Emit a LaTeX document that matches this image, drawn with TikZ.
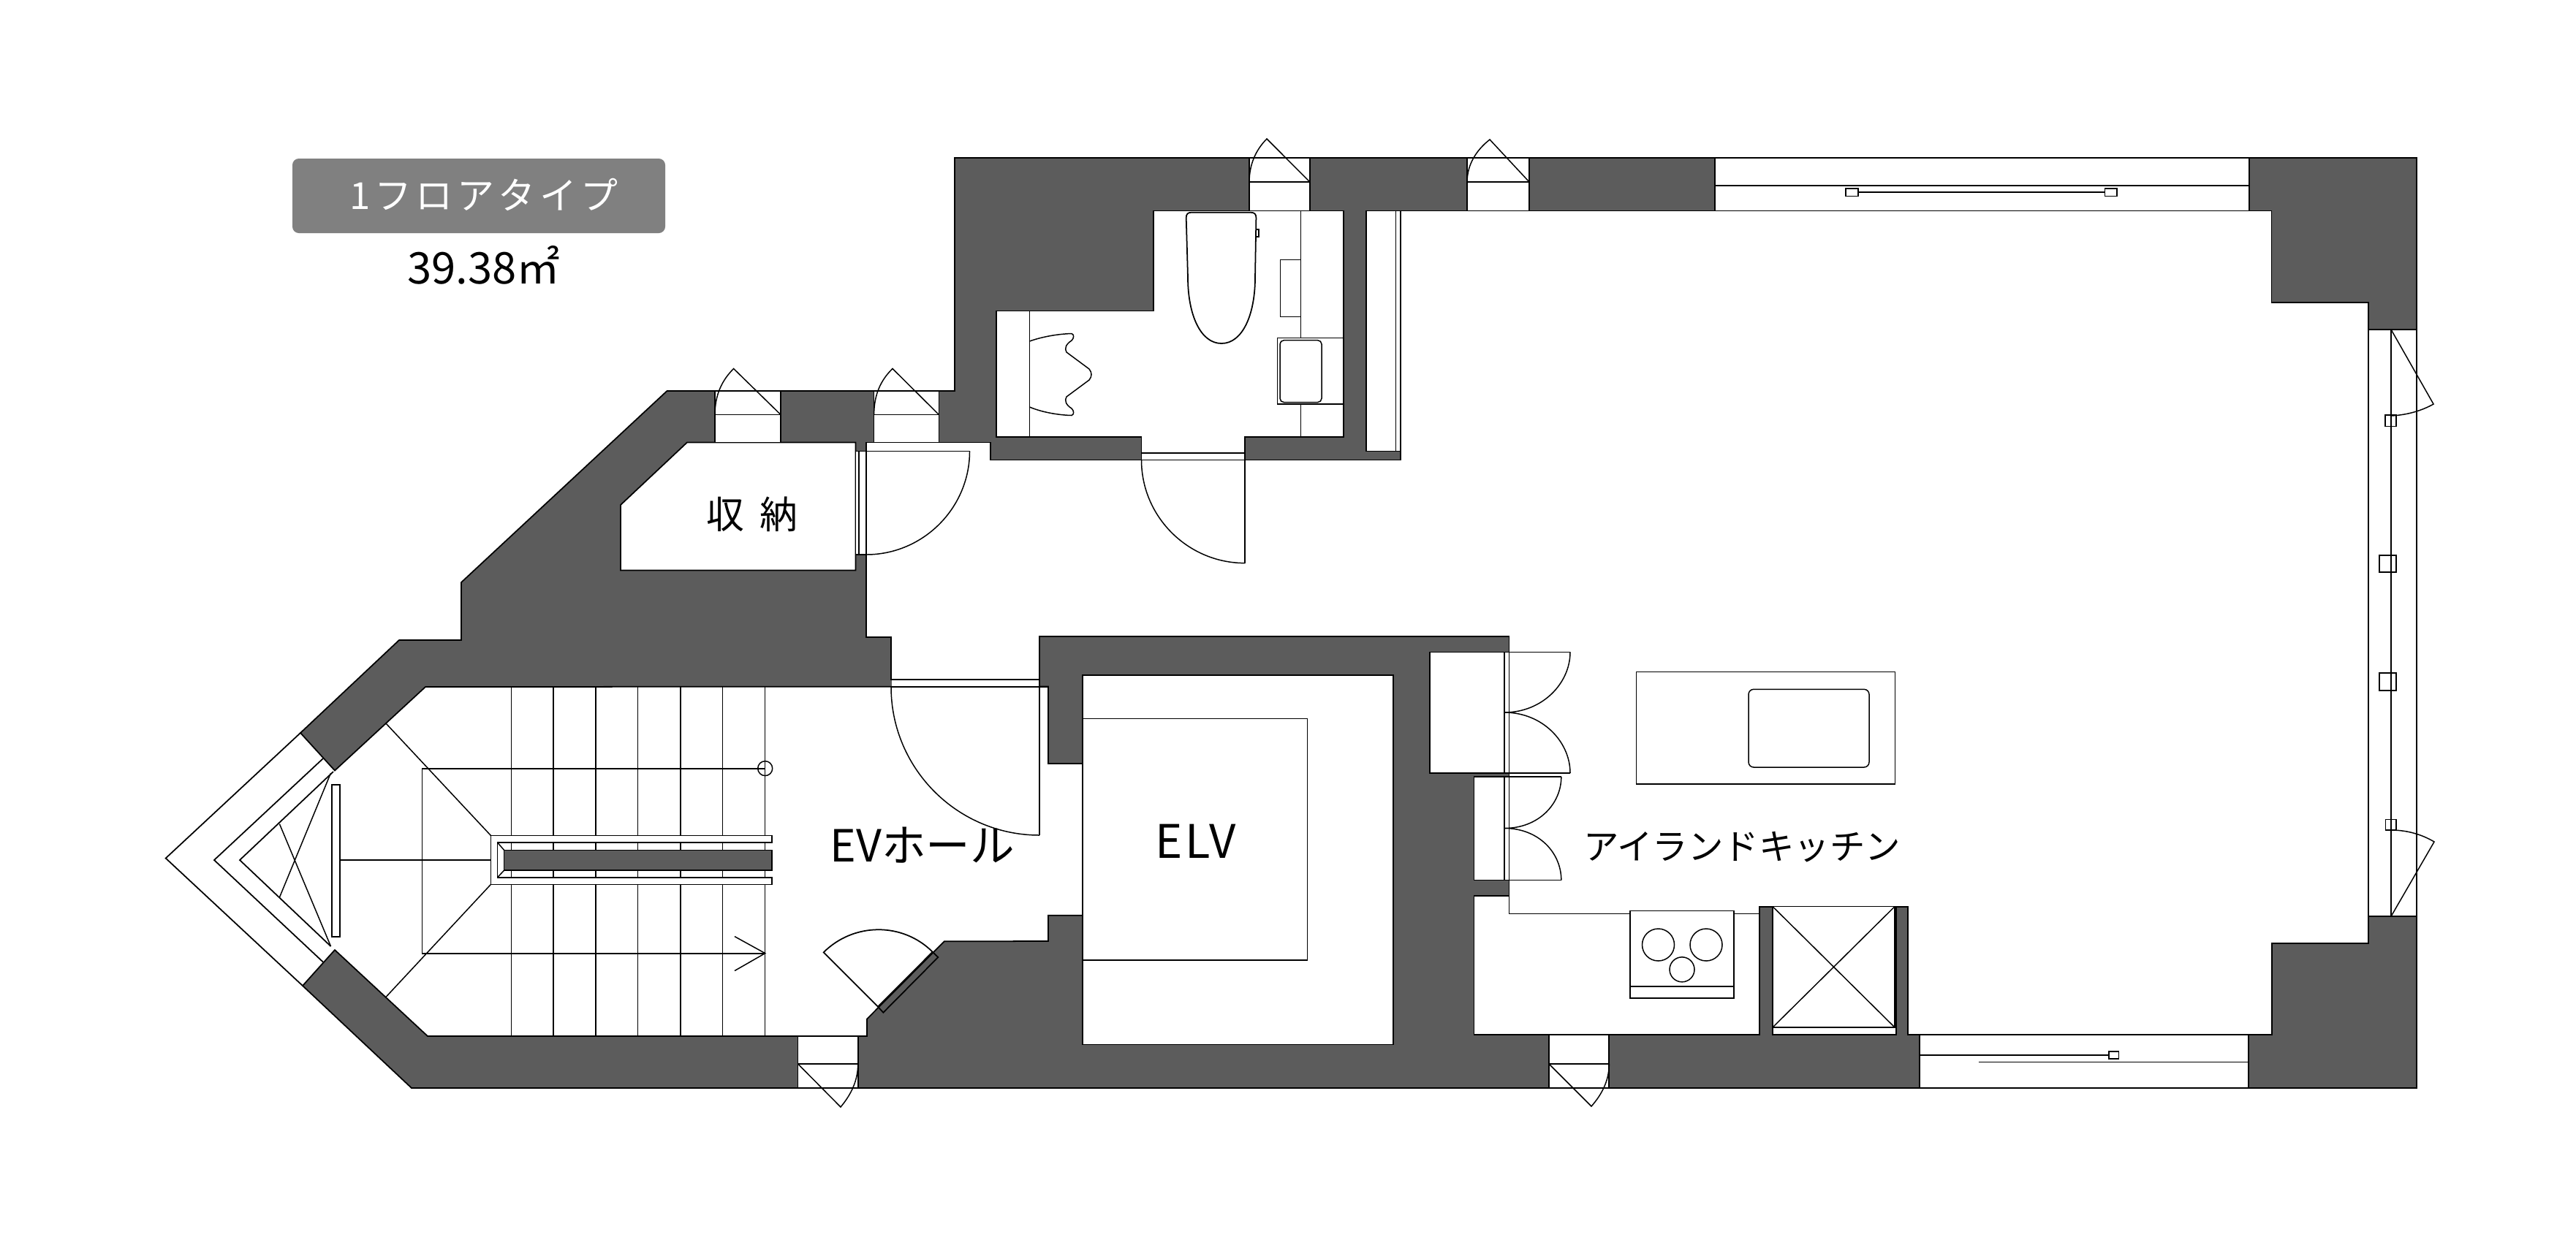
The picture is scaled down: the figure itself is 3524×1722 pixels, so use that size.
\documentclass[tikz,border=0pt]{standalone}
\usepackage{fontspec}
\newfontfamily\jp{Noto Sans CJK JP}
\definecolor{wallc}{HTML}{5C5C5C}
\definecolor{badgec}{HTML}{808080}
\tikzset{
  ln/.style={draw=black,line width=1.0pt,line join=miter},
  fine/.style={draw=black,line width=0.85pt},
  wall/.style={fill=wallc,draw=black,line width=1.0pt,line join=miter},
  room/.style={fill=white,draw=black,line width=1.0pt,line join=miter},
  lbl/.style={inner sep=0pt,text=black,anchor=center}
}
\newcommand{\jpsize}[1]{\jp\fontsize{#1}{#1}\selectfont}
\begin{document}
\begin{tikzpicture}[x=0.02cm,y=-0.02cm]
\useasboundingbox (0,0) rectangle (3524,1722);
\fill[white] (0,0) rectangle (3524,1722);
% building mass
\path[wall] (1306,216)--(3306,216)--(3306,1489)--(563,1489)--(414,1349)--(411,1003)--(546,876)--(631,876)--(631,797)--(912.5,535)--(1306,535)--cycle;
% main interior
\path[room] (1185,605.4)--(1354.8,605.4)--(1354.8,629.5)--(1915.8,629.5)--(1915.8,617.5)--(1869,617.5)--(1869,288.5)--(3107.4,288.5)--(3107.4,414)--(3240,414)--(3240,1290.6)--(3108,1290.6)--(3108,1415.6)--(2610,1415.6)--(2610,1240.6)--(2593.6,1240.6)--(2593.6,1415.6)--(2425,1415.6)--(2425,1240.6)--(2407,1240.6)--(2407,1415.6)--(2016.4,1415.6)--(2016.4,1226)--(2064.5,1226)--(2064.5,1204.5)--(2016.4,1204.5)--(2016.4,1063)--(2064.5,1063)--(2064.5,1058)--(1956,1058)--(1956,892.4)--(2064.5,892.4)--(2064.5,871)--(1422,871)--(1422,930)--(1219,930)--(1219,872)--(1185,872)--cycle;
\draw[fine] (1909.7,288.5)--(1909.7,617.5) (1915.8,288.5)--(1915.8,617.5);
% hall
\path[room] (411,1003)--(226.7,1174.5)--(414,1349)--(458,1300)--(585,1418)--(1186,1418)--(1186,1394.5)--(1291.7,1288.3)--(1434,1288)--(1434,1252.7)--(1481,1252.7)--(1481,1045)--(1434,1045)--(1434,939.5)--(582,940)--(458,1054.5)--cycle;
\fill[white] (1220,931) rectangle (1422,939);
\draw[ln] (1219,930)--(1422,930) (1219,940)--(1434,940);
\draw[ln] (1422,930)--(1422,1143);
\draw[fine] (1219,940) .. controls (1219,1052) and (1310,1143) .. (1422,1143);
% glazing at the point
\draw[ln] (442,1038)--(293,1177)--(442,1316.6);
\draw[ln] (456,1056)--(328,1177)--(452.5,1295);
\draw[fine] (382.4,1127.6)--(452.5,1295) (382.4,1228)--(452.5,1058);
\draw[ln] (454,1073.6) rectangle (465,1281.6);
\draw[ln] (465,1177)--(671.4,1177);
% stairs
\foreach \tx in {699.5,757,815,872.7,931,988.5,1046.7} \draw[fine] (\tx,940)--(\tx,1418);
\draw[ln] (1046.7,1051.6)--(577.4,1051.6)--(577.4,1304.6)--(1046.7,1304.6);
\draw[fine] (1005,1281.6)--(1046.7,1304.6)--(1005,1328.5);
\draw[fine] (1046.7,1051.6) circle (10);
\draw[fine] (528,990)--(671.4,1143.4) (528,1364.4)--(671.4,1210.4);
\path[room] (671.4,1143.4)--(1056,1143.4)--(1056,1153)--(680.5,1153)--(680.5,1200.8)--(1056,1200.8)--(1056,1210.4)--(671.4,1210.4)--cycle;
\draw[fine] (680.5,1153)--(689.7,1163.5) (680.5,1200.8)--(689.7,1191);
\path[fill=wallc,draw=black,line width=0.8pt] (689.7,1163.5) rectangle (1056,1191);
% small door in hall
\draw[ln] (1201,1377.7)--(1126.7,1303.3) .. controls (1167.8,1262.3) and (1234.7,1261.7) .. (1275.7,1302.7);
\draw[ln] (1201,1377.7)--(1208.3,1385.7)--(1283.3,1310)--(1275.7,1302.7)--cycle;
% storage
\path[room] (940,605.4)--(1170.4,605.4)--(1170.4,780.4)--(849,780.4)--(849,691)--cycle;
\fill[white] (1171,617.5) rectangle (1185,759);
\draw[ln] (1170.4,617.5)--(1326.5,617.5) (1175,617.5)--(1175,759) (1185,617.5)--(1185,759) (1170.4,759)--(1185,759);
\draw[fine] (1326.5,617.5) .. controls (1326.5,695) and (1263,759) .. (1185,759);
% bathroom
\path[room] (1578,288.5)--(1837.8,288.5)--(1837.8,598.3)--(1703,598.3)--(1703,629.5)--(1561.5,629.5)--(1561.5,598.3)--(1363.3,598.3)--(1363.3,425.5)--(1578,425.5)--cycle;
\draw[ln] (1561.5,619.7)--(1703,619.7) (1561.5,629.5)--(1703,629.5);
\draw[ln] (1703,629.5)--(1703,770.6);
\draw[fine] (1561.5,629.5) .. controls (1561.5,707) and (1625,770.6) .. (1703,770.6);
\draw[fine] (1408.4,425.5)--(1408.4,598.3);
\draw[fine] (1408.4,467) .. controls (1425,461) and (1447,457) .. (1466,456.5) .. controls (1470,458) and (1469,463) .. (1466,466) .. controls (1458,471) and (1456,477) .. (1459,482) -- (1490,505) .. controls (1494,510) and (1494,515) .. (1490,520) -- (1459,543) .. controls (1456,548) and (1458,554) .. (1466,559) .. controls (1469,562) and (1470,567) .. (1466,568.5) .. controls (1447,568) and (1425,564) .. (1408.4,557);
\draw[fine] (1779.6,288.5)--(1779.6,462.6) (1779.6,552.8)--(1779.6,598.3);
\draw[fine] (1751.3,355.4) rectangle (1779.6,433.6);
\draw[fine] (1747.4,462.6) rectangle (1837.8,552.8);
\draw[fine,rounded corners=3] (1751,465.7) rectangle (1808,550.5);
\draw[ln] (1630,290.7)--(1710.7,290.7) .. controls (1716,290.7) and (1718.4,293) .. (1718.4,298)--(1717,380) .. controls (1717,430) and (1700,470) .. (1671,470) .. controls (1642,470) and (1625,430) .. (1625,380)--(1622.7,298) .. controls (1622.7,293) and (1625,290.7) .. (1630,290.7)--cycle;
\draw[fine] (1718.4,314)--(1722,314)--(1722,324)--(1718,324);
% wall openings with outward doors
\path[room] (978,535) rectangle (1068,605.4);
\path[room] (1195.6,535) rectangle (1284.4,605.4);
\path[room] (1709,215.7) rectangle (1791.8,288.5);
\path[room] (2007,215.7) rectangle (2092,288.5);
\path[room] (1091.6,1418) rectangle (1173.7,1489);
\path[room] (2119,1415.6) rectangle (2201.3,1489);
\draw[ln] (978,567.5)--(1068,567.5) (1195.6,567.5)--(1284.4,567.5) (1709,249)--(1791.8,249) (2007,249)--(2092,249) (1091.6,1456)--(1173.7,1456) (2119,1456)--(2201.3,1456);
\draw[fine] (978,567.5) .. controls (978,540) and (988,520) .. (1003.6,504.5)--(1068,567.5);
\draw[fine] (1195.6,567.5) .. controls (1195.6,540) and (1205,520) .. (1221,504.5)--(1284.4,567.5);
\draw[fine] (1709,249) .. controls (1709,225) and (1718,205) .. (1733,190)--(1791.8,249);
\draw[fine] (2007,249) .. controls (2007,225) and (2020,205) .. (2038,191)--(2092,249);
\draw[fine] (1091.6,1456)--(1150,1515) .. controls (1165,1497) and (1173.7,1478) .. (1173.7,1456);
\draw[fine] (2119,1456)--(2177,1514) .. controls (2192,1497) and (2201.3,1478) .. (2201.3,1456);
% elevator
\path[room] (1481,923.7) rectangle (1906,1429.5);
\path[fill=white,draw=black,line width=1pt] (1481,983.5) rectangle (1788.4,1314.3);
% cabinets
\draw[fine] (2058,892.4)--(2058,1058) (2058,1063)--(2058,1204.5) (2064.5,892.4)--(2064.5,1058) (2064.5,1063)--(2064.5,1204.5);
\draw[fine] (1956,892.4)--(2148,892.4) (1956,1058)--(2148,1058) (2016.4,1063)--(2135.8,1063) (2016.4,1204.5)--(2135.8,1204.5);
\draw[fine] (2148,892.4) .. controls (2148,935) and (2110,975) .. (2058,975) .. controls (2110,975) and (2148,1015) .. (2148,1058);
\draw[fine] (2135.8,1063) .. controls (2135.8,1100) and (2105,1133.5) .. (2058,1133.5) .. controls (2105,1133.5) and (2135.8,1167) .. (2135.8,1204.5);
% island
\draw[fine] (2238.6,919.6) rectangle (2592.7,1073.2);
\draw[fine,rounded corners=4] (2392,943.3) rectangle (2557,1050);
% kitchen counter
\draw[ln] (2064.5,1226)--(2064.5,1250.4)--(2407,1250.4);
\path[room] (2230,1246.4) rectangle (2372,1365.6);
\draw[fine] (2230,1350)--(2372,1350);
\draw[fine] (2268.5,1293) circle (22);
\draw[fine] (2334,1293) circle (22);
\draw[fine] (2301,1326.8) circle (17);
% fridge
\draw[fine] (2425,1240.6) rectangle (2592,1406);
\draw[fine] (2425,1240.6)--(2592,1406) (2592,1240.6)--(2425,1406);
% windows
\path[room] (2345.6,215.7) rectangle (3076.6,288.5);
\draw[ln] (2345.6,253.7)--(3076.6,253.7);
\draw[fine] (2542,263)--(2879.5,263);
\path[room] (2525,258) rectangle (2542,268.4);
\path[room] (2879.5,258) rectangle (2896,268.4);
\path[room] (2626,1415.6) rectangle (3075.8,1489);
\draw[fine] (2626,1444)--(2884.6,1444) (2706.7,1453.6)--(3075.8,1453.6);
\path[room] (2884.6,1439) rectangle (2898.4,1449);
\path[room] (3240,451) rectangle (3306,1254);
\draw[fine] (3271,451)--(3271,1254);
\path[fill=white,draw=black,line width=0.8pt] (3255,760) rectangle (3278,783);
\draw[fine] (3271,760)--(3271,783);
\path[fill=white,draw=black,line width=0.8pt] (3255,921) rectangle (3278,945);
\draw[fine] (3271,921)--(3271,945);
\path[fill=white,draw=black,line width=0.8pt] (3263.5,1121.4) rectangle (3278,1136);
\draw[fine] (3271,1121.4)--(3271,1136);
\path[fill=white,draw=black,line width=0.8pt] (3263,568) rectangle (3278,583.6);
\draw[fine] (3271,568)--(3271,583.6);
\draw[fine] (3271,451)--(3329,553) .. controls (3313,562) and (3293,568) .. (3271,569);
\draw[fine] (3271,1254)--(3330,1152) .. controls (3313,1142) and (3293,1136) .. (3271,1136);
% badge and texts
\node[fill=badgec,rounded corners=5,minimum width=510*0.02cm,minimum height=102*0.02cm,inner sep=0pt,anchor=center] (badge) at (655,268) {};
\node[inner sep=0pt,text=white] (badgetxt) at (662,266) {\jpsize{29pt}\addfontfeature{LetterSpace=11}1フロアタイプ};
\node[lbl] (area) at (662,363) {\jpsize{34pt}39.38㎡};
\node[lbl] (store) at (1029,704) {\jpsize{29.5pt}収\hspace{12pt}納};
\node[lbl] (evhall) at (1262,1157) {\jpsize{34.5pt}EVホール};
\node[lbl] (elv) at (1636,1151) {\jpsize{36pt}\addfontfeature{LetterSpace=6}ELV};
\node[lbl] (kitchen) at (2383,1159) {\jpsize{27.6pt}アイランドキッチン};
\end{tikzpicture}
\end{document}
